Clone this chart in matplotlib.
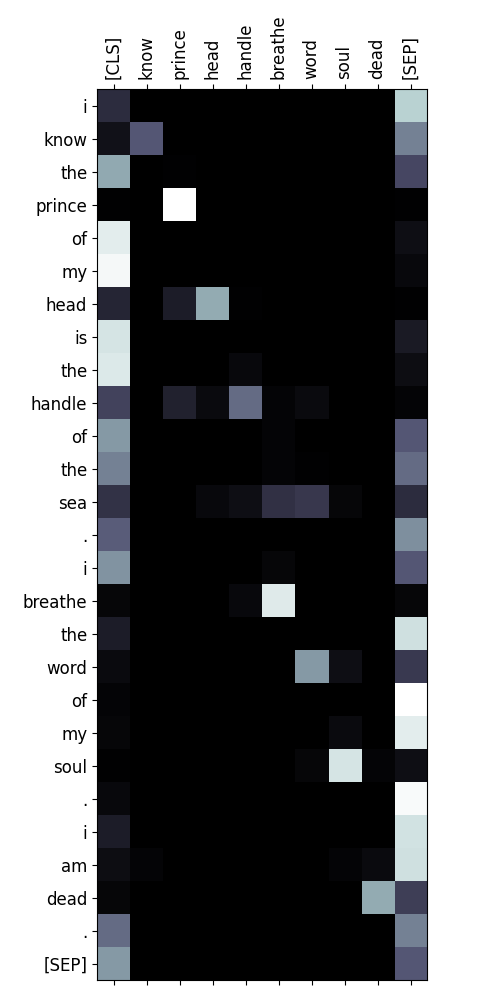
import numpy as np
import matplotlib
matplotlib.use("Agg")
import matplotlib.pyplot as plt

# tokens
col_tokens = ["[CLS]", "know", "prince", "head", "handle", "breathe", "word", "soul", "dead", "[SEP]"]
row_tokens = ["i", "know", "the", "prince", "of", "my", "head", "is", "the", "handle",
              "of", "the", "sea", ".", "i", "breathe", "the", "word", "of", "my",
              "soul", ".", "i", "am", "dead", ".", "[SEP]"]

# attention weights, columns follow col_tokens
attn = [
    [0.20, 0.00, 0.00, 0.00, 0.00, 0.00, 0.00, 0.00, 0.00, 0.80],
    [0.08, 0.38, 0.00, 0.00, 0.00, 0.00, 0.00, 0.00, 0.00, 0.52],
    [0.65, 0.00, 0.01, 0.00, 0.00, 0.00, 0.00, 0.00, 0.00, 0.32],
    [0.01, 0.00, 1.00, 0.00, 0.00, 0.00, 0.00, 0.00, 0.00, 0.01],
    [0.92, 0.00, 0.00, 0.00, 0.00, 0.00, 0.00, 0.00, 0.00, 0.07],
    [0.97, 0.00, 0.00, 0.00, 0.00, 0.00, 0.00, 0.00, 0.00, 0.04],
    [0.17, 0.00, 0.13, 0.66, 0.01, 0.00, 0.00, 0.00, 0.00, 0.01],
    [0.88, 0.00, 0.00, 0.00, 0.00, 0.00, 0.00, 0.00, 0.00, 0.12],
    [0.90, 0.00, 0.00, 0.00, 0.04, 0.00, 0.00, 0.00, 0.00, 0.06],
    [0.30, 0.00, 0.15, 0.05, 0.45, 0.02, 0.05, 0.00, 0.00, 0.02],
    [0.60, 0.00, 0.00, 0.00, 0.00, 0.02, 0.00, 0.00, 0.00, 0.38],
    [0.52, 0.00, 0.00, 0.00, 0.00, 0.02, 0.01, 0.00, 0.00, 0.45],
    [0.23, 0.00, 0.00, 0.04, 0.07, 0.22, 0.25, 0.03, 0.00, 0.20],
    [0.40, 0.00, 0.00, 0.00, 0.00, 0.00, 0.00, 0.00, 0.00, 0.57],
    [0.58, 0.00, 0.00, 0.00, 0.00, 0.03, 0.00, 0.00, 0.00, 0.38],
    [0.03, 0.00, 0.00, 0.00, 0.04, 0.91, 0.00, 0.00, 0.00, 0.03],
    [0.13, 0.00, 0.00, 0.00, 0.00, 0.00, 0.00, 0.00, 0.00, 0.86],
    [0.05, 0.00, 0.00, 0.00, 0.00, 0.00, 0.60, 0.07, 0.00, 0.26],
    [0.02, 0.00, 0.00, 0.00, 0.00, 0.00, 0.00, 0.00, 0.00, 1.00],
    [0.03, 0.00, 0.00, 0.00, 0.00, 0.00, 0.00, 0.05, 0.00, 0.92],
    [0.01, 0.00, 0.00, 0.00, 0.00, 0.00, 0.03, 0.88, 0.02, 0.07],
    [0.04, 0.00, 0.00, 0.00, 0.00, 0.00, 0.00, 0.00, 0.00, 0.98],
    [0.13, 0.00, 0.00, 0.00, 0.00, 0.00, 0.00, 0.00, 0.00, 0.87],
    [0.06, 0.02, 0.00, 0.00, 0.00, 0.00, 0.00, 0.02, 0.05, 0.86],
    [0.03, 0.00, 0.00, 0.00, 0.00, 0.00, 0.00, 0.00, 0.66, 0.28],
    [0.45, 0.00, 0.00, 0.00, 0.00, 0.00, 0.00, 0.00, 0.00, 0.52],
    [0.60, 0.00, 0.00, 0.00, 0.00, 0.00, 0.00, 0.00, 0.00, 0.38],
]

fig = plt.figure(figsize=(5, 10), dpi=100)
ax = fig.add_axes([0.194, 0.02, 0.66, 0.891])
ax.imshow(np.array(attn), cmap="bone", vmin=0, vmax=1, aspect="auto", interpolation="nearest")

ax.set_xticks(range(len(col_tokens)))
ax.set_xticklabels(col_tokens, rotation=90, fontsize=12)
ax.set_yticks(range(len(row_tokens)))
ax.set_yticklabels(row_tokens, fontsize=12)
ax.tick_params(axis="x", top=True, labeltop=True, bottom=True, labelbottom=False)

fig.savefig("out.png")
